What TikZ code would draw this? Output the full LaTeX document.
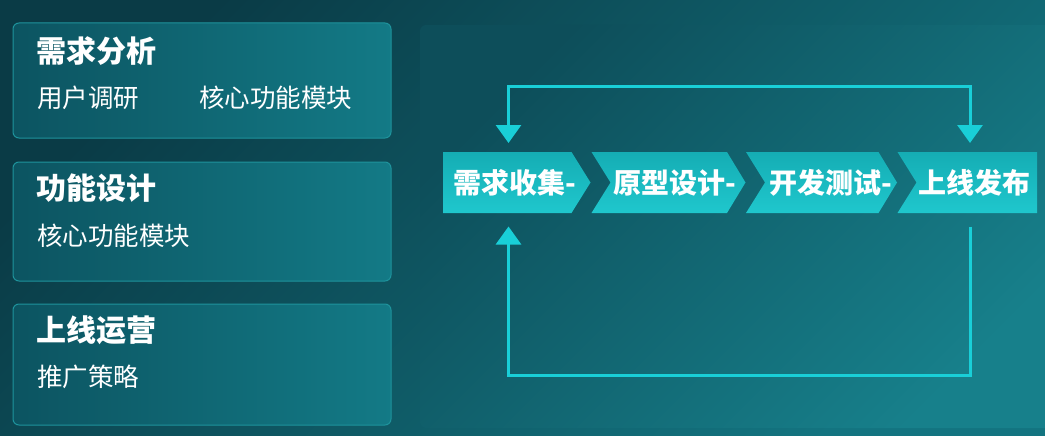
\documentclass[tikz,border=0pt]{standalone}
\usepackage{fontspec}
\setmainfont{Noto Sans CJK SC}
\usetikzlibrary{arrows.meta}
\newlength{\du}
\setlength{\du}{1pt}
\definecolor{bgdark}{HTML}{0A3B46}
\definecolor{bglight}{HTML}{137480}
\definecolor{paneldark}{HTML}{0D4E5A}
\definecolor{panellight}{HTML}{17808B}
\definecolor{carddark}{HTML}{0C5461}
\definecolor{cardlight}{HTML}{137A86}
\definecolor{cardline}{HTML}{1E939C}
\definecolor{chevtop}{HTML}{1FC7CD}
\definecolor{chevbottom}{HTML}{15ADB4}
\definecolor{loopcolor}{HTML}{19CFD8}
\tikzset{
  card/.style={draw=cardline, line width=1\du, rounded corners=6\du,
    left color=carddark, right color=cardlight},
  chev/.style={top color=chevbottom, bottom color=chevtop, draw=none},
  cardtitle/.style={anchor=west, inner sep=0pt, text=white,
    font=\bfseries\fontsize{30}{36}\selectfont},
  cardtext/.style={anchor=west, inner sep=0pt, text=white,
    font=\fontsize{25.5}{30}\selectfont},
  chevtext/.style={inner sep=0pt, text=white,
    font=\bfseries\fontsize{28}{34}\selectfont},
  looptip/.tip={Triangle[width=25pt,length=18pt]},
  loop/.style={draw=loopcolor, line width=3\du, miter limit=4}
}

\begin{document}
\begin{tikzpicture}[yscale=-1]
\useasboundingbox (0\du,0\du) rectangle (1045\du,436\du);
% background
\shade[top color=bglight, bottom color=bgdark, shading angle=225]
  (0\du,0\du) rectangle (1045\du,436\du);
% right panel
\shade[rounded corners=6\du, top color=panellight, bottom color=paneldark, shading angle=225]
  (420\du,25\du) rectangle (1060\du,428\du);
% left cards
\shade[card] (13\du,23\du) rectangle (391\du,138\du);
\shade[card] (13\du,162\du) rectangle (391\du,281\du);
\shade[card] (13\du,304\du) rectangle (391\du,425\du);
\node[cardtitle] (analysis) at (36\du,51\du) {需求分析};
\node[cardtext] (survey) at (37\du,97.5\du) {用户调研};
\node[cardtext] (modulesa) at (199\du,97.5\du) {核心功能模块};
\node[cardtitle] (design) at (36\du,188\du) {功能设计};
\node[cardtext] (modulesb) at (37\du,236\du) {核心功能模块};
\node[cardtitle] (operate) at (36\du,330\du) {上线运营};
\node[cardtext] (promote) at (37\du,377\du) {推广策略};
% chevrons
\shade[chev] (443\du,152\du)--(571.5\du,152\du)--(590.5\du,182.5\du)--(571.5\du,213\du)--(443\du,213\du)--cycle;
\shade[chev] (591.5\du,152\du)--(727\du,152\du)--(745.5\du,182.5\du)--(727\du,213\du)--(591.5\du,213\du)--(610.5\du,182.5\du)--cycle;
\shade[chev] (746\du,152\du)--(878.5\du,152\du)--(897\du,182.5\du)--(878.5\du,213\du)--(746\du,213\du)--(765\du,182.5\du)--cycle;
\shade[chev] (897.5\du,152\du)--(1037\du,152\du)--(1037\du,213\du)--(897.5\du,213\du)--(916.5\du,182.5\du)--cycle;
\node[chevtext] (collect) at (515\du,182.5\du) {需求收集-};
\node[chevtext] (proto) at (675\du,182.5\du) {原型设计-};
\node[chevtext] (devtest) at (830.5\du,182.5\du) {开发测试-};
\node[chevtext] (release) at (974\du,182.5\du) {上线发布};
% loop arrows
\coordinate (intop) at (508.5\du,143\du);
\coordinate (outtop) at (970\du,143\du);
\coordinate (inbottom) at (508.5\du,226.5\du);
\coordinate (outbottom) at (970\du,226.5\du);
\draw[loop, looptip-looptip]
  (intop) -- (508.5\du,87\du) -- (970\du,87\du) -- (outtop);
\draw[loop, -looptip]
  (outbottom) -- (970\du,375.5\du) -- (508.5\du,375.5\du) -- (inbottom);
\end{tikzpicture}
\end{document}
